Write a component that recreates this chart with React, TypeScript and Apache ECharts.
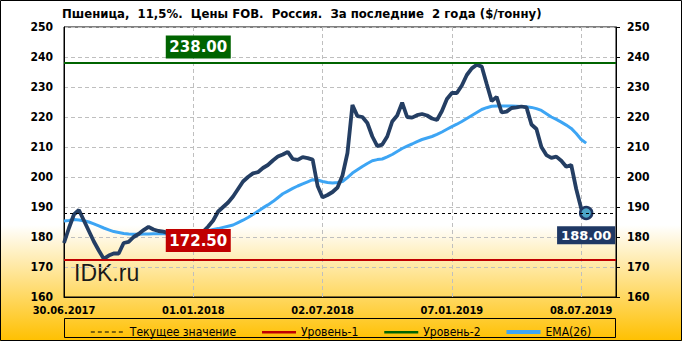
import React, { useEffect, useRef } from 'react';
import * as echarts from 'echarts';

const FONT = '"DejaVu Sans Condensed", "DejaVu Sans", sans-serif';

const titleText = 'Пшеница,  11,5%.  Цены FOB.  Россия.  За последние  2 года ($/тонну)';
const weekCount = 112;
const xTickIndex = [0, 26, 52, 78, 104];
const xTickLabels = ['30.06.2017', '01.01.2018', '02.07.2018', '07.01.2019', '08.07.2019'];

const price = [
  178, 183, 187.5, 189, 185.5, 182, 178.5, 175.5, 172.7, 173.8,
  174.5, 174.5, 178, 178.4, 180, 181, 182.3, 183.4, 182.5, 182,
  181.8, 181.3, 181, 180.8, 181, 181.2, 181, 181.5, 181.8, 183.5,
  185.5, 188.5, 190, 191.5, 193.5, 196, 198.5, 200, 201.2, 201.6,
  203, 204, 205.5, 206.8, 207.5, 208.4, 206, 205.7, 206.6, 206.3,
  205.8, 197, 193.2, 194, 195, 196.5, 200.5, 208, 224, 220.3,
  220, 218, 213.5, 210.3, 210.8, 213.5, 218.5, 220.5, 224.8, 220,
  219.8, 220.6, 221, 220.5, 219.5, 219, 222, 226, 228, 228,
  230.5, 234, 236.2, 237.4, 236.8, 231, 225.3, 226.7, 221.5, 221.8,
  223, 223.2, 223.5, 223.2, 217.5, 216, 210, 207.3, 206.4, 206.8,
  205.4, 203.4, 204, 196, 189.5, 188,
];

const ema = [
  185.3, 185.5, 185.8, 185.7, 185.4, 185, 184.4, 183.7, 183, 182.4,
  181.8, 181.5, 181.2, 181, 180.9, 180.9, 181, 181, 181.1, 181.1,
  181.1, 181, 180.9, 181, 181.1, 181.2, 181.4, 181.6, 181.8, 182.1,
  182.5, 182.8, 183.2, 183.6, 184, 184.8, 185.6, 186.5, 187.5, 188.6,
  189.7, 190.7, 191.8, 193.1, 194.4, 195.3, 196.2, 197, 197.7, 198.4,
  199.1, 199, 198.5, 198.2, 198, 198.2, 198.5, 199.8, 201.3, 202.4,
  203.5, 204.5, 205.4, 205.8, 206, 206.7, 207.5, 208.5, 209.5, 210.3,
  211, 211.8, 212.5, 213, 213.5, 214.2, 215, 215.9, 216.8, 217.6,
  218.5, 219.5, 220.5, 221.5, 222.5, 223.1, 223.6, 223.7, 223.7, 223.7,
  223.7, 223.6, 223.5, 223.4, 223.2, 222.8, 222.2, 221.1, 220, 219.2,
  218.3, 217.3, 216.2, 214.5, 212.5, 211.3,
];

const currentValue = 188;
const level1 = 172.5;
const level2 = 238;
const levelLabelIndex = 27;

const categories = Array.from({ length: weekCount }, (_, i) => String(i));

// legend icons (34 x 10 box, extended by move-to points)
const ICON_DASH = 'path://M0,0M34,10M0,4.5h4v1h-4zM7,4.5h4v1h-4zM14,4.5h4v1h-4zM21,4.5h4v1h-4zM28,4.5h4v1h-4z';
const ICON_LINE2 = 'path://M0,0M34,10M0,4h34v2.5h-34z';
const ICON_LINE4 = 'path://M0,0M34,10M0,3h34v4h-34z';

export default function App() {
  const ref = useRef<HTMLDivElement>(null);

  useEffect(() => {
    if (!ref.current) return;
    const chart = echarts.init(ref.current, undefined, { renderer: 'svg' });
    const lastIdx = price.length - 1;
    const priceData: any[] = price.map((v, i) =>
      i === lastIdx
        ? {
            value: v,
            symbol: 'circle',
            symbolSize: 12,
            itemStyle: { color: '#4BA6C8', borderColor: '#1F3864', borderWidth: 2.5 },
            label: {
              show: true,
              position: 'bottom',
              distance: 6,
              formatter: () => v.toFixed(2),
              backgroundColor: '#1F3864',
              color: '#fff',
              fontWeight: 'bold',
              fontFamily: 'DejaVu Sans',
              fontSize: 13,
              padding: [3, 4, 2, 4],
            },
          }
        : v
    );

    const axisLabelStyle = { color: '#000', fontWeight: 'bold' as const, fontSize: 12, fontFamily: FONT };

    const levelSeries = (name: string, value: number, color: string, dash: any, width: number, labelBox: boolean, offsetY: number) => ({
      type: 'line',
      name,
      data: [],
      symbol: 'none',
      lineStyle: { color, width, type: dash },
      itemStyle: { color },
      z: 4,
      markLine: {
        symbol: 'none',
        silent: true,
        animation: false,
        label: { show: false },
        lineStyle: { color, width, type: dash },
        data: [{ yAxis: value }],
      },
      markPoint: labelBox
        ? {
            animation: false,
            symbol: 'rect',
            symbolSize: [65, 23],
            itemStyle: { color },
            label: {
              show: true,
              color: '#fff',
              fontWeight: 'bold',
              fontSize: 15,
              fontFamily: 'DejaVu Sans',
              formatter: () => value.toFixed(2),
            },
            data: [{ coord: [categories[levelLabelIndex], value], symbolOffset: [0, offsetY] }],
          }
        : undefined,
    });

    chart.setOption({
      animation: false,
      backgroundColor: new echarts.graphic.LinearGradient(0, 0, 0, 1, [
        { offset: 0, color: '#FFFFFF' },
        { offset: 0.66, color: '#FFFFFF' },
        { offset: 1, color: '#FFC000' },
      ]),
      title: {
        text: titleText,
        left: 62,
        top: 7,
        padding: 0,
        textStyle: { fontSize: 13, fontWeight: 'bold', fontFamily: FONT, color: '#000' },
      },
      grid: {
        left: 64,
        right: 66,
        top: 27,
        bottom: 44,
        show: true,
        borderColor: '#000',
        borderWidth: 1,
        backgroundColor: 'transparent',
      },
      legend: {
        data: [
          { name: 'Текущее значение', icon: ICON_DASH },
          { name: 'Уровень-1', icon: ICON_LINE2 },
          { name: 'Уровень-2', icon: ICON_LINE2 },
          { name: 'EMA(26)', icon: ICON_LINE4 },
        ],
        left: 'center',
        top: 321,
        itemWidth: 34,
        itemHeight: 10,
        itemGap: 26,
        itemStyle: { borderWidth: 0 },
        textStyle: { fontSize: 12, fontFamily: FONT, color: '#000' },
      },
      xAxis: {
        type: 'category',
        data: categories,
        boundaryGap: false,
        axisLine: { show: true, lineStyle: { color: '#000' } },
        axisTick: { show: false },
        axisLabel: {
          ...axisLabelStyle,
          fontSize: 11,
          margin: 8,
          interval: (i: number) => xTickIndex.includes(i),
          formatter: (_v: string, i: number) => {
            const k = xTickIndex.indexOf(i);
            return k >= 0 ? xTickLabels[k] : '';
          },
        },
        splitLine: {
          show: true,
          interval: (i: number) => xTickIndex.includes(i) && i > 0,
          lineStyle: { color: '#BFBFBF', type: [4, 3] },
        },
      },
      yAxis: [
        {
          type: 'value',
          min: 160,
          max: 250,
          interval: 10,
          position: 'left',
          axisLine: { show: true, lineStyle: { color: '#000' } },
          axisTick: { show: false },
          axisLabel: { ...axisLabelStyle, margin: 11 },
          splitLine: { show: true, lineStyle: { color: '#BFBFBF', type: [4, 3] } },
        },
        {
          type: 'value',
          min: 160,
          max: 250,
          interval: 10,
          position: 'right',
          axisLine: { show: true, lineStyle: { color: '#000' } },
          axisTick: { show: true, length: 4, lineStyle: { color: '#000' } },
          axisLabel: { ...axisLabelStyle, margin: 11 },
          splitLine: { show: false },
        },
      ],
      series: [
        {
          type: 'line',
          name: 'EMA(26)',
          data: ema,
          symbol: 'none',
          lineStyle: { color: '#3DA5F4', width: 3 },
          itemStyle: { color: '#3DA5F4' },
          z: 2,
        },
        levelSeries('Текущее значение', currentValue, '#000', [3, 3], 1, false, 0),
        levelSeries('Уровень-1', level1, '#C00000', 'solid', 2, true, -19),
        levelSeries('Уровень-2', level2, '#006400', 'solid', 2, true, -16),
        {
          type: 'line',
          name: 'Пшеница',
          data: priceData,
          symbol: 'none',
          showAllSymbol: true,
          lineStyle: { color: '#243E63', width: 3.8 },
          itemStyle: { color: '#243E63' },
          z: 3,
        },
      ],
      graphic: [
        {
          type: 'text',
          x: 74,
          y: 261,
          silent: true,
          style: {
            text: 'IDK.ru',
            fontSize: 23,
            fontFamily: '"Liberation Sans", Arial, sans-serif',
            fill: '#1a1a1a',
            verticalAlign: 'top',
          },
        },
        {
          type: 'rect',
          silent: true,
          shape: { x: 64.5, y: 318.5, width: 551, height: 19 },
          style: { fill: 'none', stroke: '#000', lineWidth: 1 },
        },
        {
          type: 'rect',
          silent: true,
          shape: { x: 0.5, y: 0.5, width: 681, height: 340 },
          style: { fill: 'none', stroke: '#000', lineWidth: 1 },
        },
      ],
    });
    return () => chart.dispose();
  }, []);

  return (
    <div
      ref={ref}
      style={{ position: 'fixed', left: 0, top: 0, width: 682, height: 341 }}
    />
  );
}
